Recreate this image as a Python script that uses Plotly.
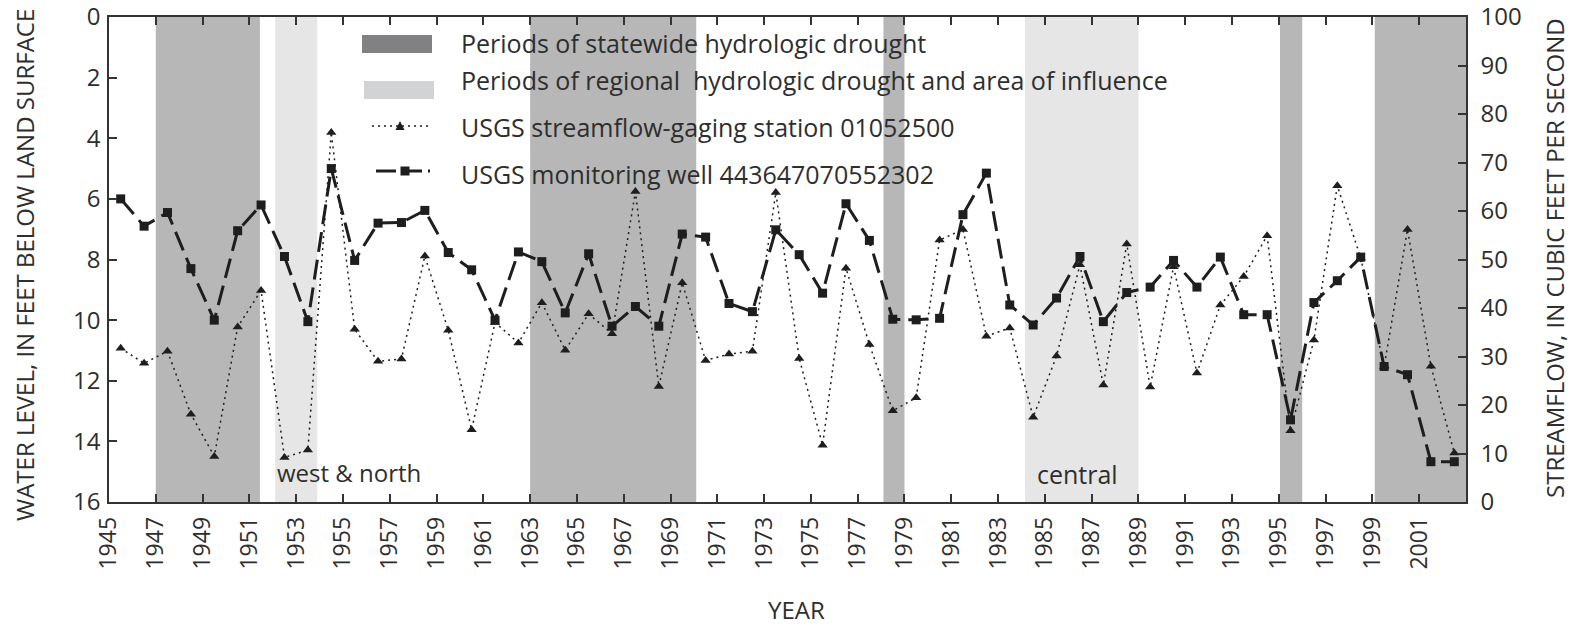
import plotly.graph_objects as go

# ---------------- data ----------------
year = [1945.5, 1946.5, 1947.5, 1948.5, 1949.5, 1950.5, 1951.5, 1952.5, 1953.5, 1954.5,
        1955.5, 1956.5, 1957.5, 1958.5, 1959.5, 1960.5, 1961.5, 1962.5, 1963.5, 1964.5,
        1965.5, 1966.5, 1967.5, 1968.5, 1969.5, 1970.5, 1971.5, 1972.5, 1973.5, 1974.5,
        1975.5, 1976.5, 1977.5, 1978.5, 1979.5, 1980.5, 1981.5, 1982.5, 1983.5, 1984.5,
        1985.5, 1986.5, 1987.5, 1988.5, 1989.5, 1990.5, 1991.5, 1992.5, 1993.5, 1994.5,
        1995.5, 1996.5, 1997.5, 1998.5, 1999.5, 2000.5, 2001.5, 2002.5]

water_level_ft = [6.0, 6.9, 6.45, 8.3, 10.0, 7.05, 6.2, 7.9, 10.05, 5.0,
                  8.03, 6.8, 6.78, 6.38, 7.77, 8.34, 10.0, 7.75, 8.07, 9.76,
                  7.81, 10.2, 9.55, 10.2, 7.16, 7.26, 9.45, 9.72, 7.02, 7.84,
                  9.11, 6.16, 7.37, 9.97, 9.99, 9.94, 6.52, 5.15, 9.5, 10.16,
                  9.27, 7.9, 10.05, 9.09, 8.91, 8.03, 8.91, 7.92, 9.82, 9.82,
                  13.29, 9.42, 8.7, 7.92, 11.53, 11.8, 14.67, 14.67]

streamflow_cfs = [31.7, 28.6, 31.1, 18.1, 9.4, 36.1, 43.6, 9.2, 10.7, 76.2,
                  35.6, 29.0, 29.5, 50.7, 35.4, 14.9, 37.0, 32.8, 41.1, 31.3,
                  38.8, 34.7, 64.0, 23.8, 45.2, 29.2, 30.5, 31.1, 63.8, 29.6,
                  11.7, 48.2, 32.5, 18.8, 21.5, 54.0, 56.2, 34.2, 35.9, 17.5,
                  30.1, 48.9, 24.1, 53.2, 23.7, 48.5, 26.6, 40.6, 46.5, 54.9,
                  14.7, 33.4, 65.2, 50.3, 27.9, 56.2, 28.0, 10.1]

x_tick_years = [1945, 1947, 1949, 1951, 1953, 1955, 1957, 1959, 1961, 1963, 1965,
                1967, 1969, 1971, 1973, 1975, 1977, 1979, 1981, 1983, 1985, 1987,
                1989, 1991, 1993, 1995, 1997, 1999, 2001]
left_ticks = [0, 2, 4, 6, 8, 10, 12, 14, 16]
right_ticks = [0, 10, 20, 30, 40, 50, 60, 70, 80, 90, 100]

statewide_start = [1947.0, 1963.0, 1978.1, 1995.05, 1999.1]
statewide_end = [1951.45, 1970.1, 1979.0, 1996.0, 2003.0]
regional_start = [1952.1, 1984.15]
regional_end = [1953.9, 1989.0]

legend_labels = ["Periods of statewide hydrologic drought",
                 "Periods of regional&nbsp; hydrologic drought and area of influence",
                 "USGS streamflow-gaging station 01052500",
                 "USGS monitoring well 443647070552302"]

# ---------------- layout helpers ----------------
W, H = 1578, 626
L, R, T, B = 109, 112, 17, 124
PW = W - L - R
PH = H - T - B
FONT = "Open Sans"
INK = "#1e1e1e"
TXT = "#2e2e2e"
DARK_SHADE = "#b7b7b7"
LIGHT_SHADE = "#e6e6e6"


def px(x):
    return (x - L) / PW


def py(y):
    return (H - B - y) / PH


fig = go.Figure()

fig.add_trace(go.Scatter(
    x=year, y=streamflow_cfs, yaxis="y2", mode="lines+markers",
    line=dict(color=INK, width=1.5, dash="2px,4px"),
    marker=dict(symbol="triangle-up", size=9, color=INK),
    showlegend=False, hoverinfo="skip"))

fig.add_trace(go.Scatter(
    x=year, y=water_level_ft, mode="lines+markers",
    line=dict(color=INK, width=3, dash="20px,8px"),
    marker=dict(symbol="square", size=9, color=INK),
    showlegend=False, hoverinfo="skip"))

shapes = []
for s, e in zip(statewide_start, statewide_end):
    shapes.append(dict(type="rect", xref="x", yref="paper", x0=s, x1=e, y0=0, y1=1,
                       fillcolor=DARK_SHADE, line=dict(width=0), layer="below"))
for s, e in zip(regional_start, regional_end):
    shapes.append(dict(type="rect", xref="x", yref="paper", x0=s, x1=e, y0=0, y1=1,
                       fillcolor=LIGHT_SHADE, line=dict(width=0), layer="below"))

# legend (drawn manually, inside plot area)
shapes.append(dict(type="rect", xref="paper", yref="paper", x0=px(362), x1=px(432),
                   y0=py(53), y1=py(35), fillcolor="#818183", line=dict(width=0)))
shapes.append(dict(type="rect", xref="paper", yref="paper", x0=px(364), x1=px(434),
                   y0=py(99), y1=py(81), fillcolor="#d2d3d5", line=dict(width=0)))
shapes.append(dict(type="line", xref="paper", yref="paper", x0=px(372), x1=px(428),
                   y0=py(126), y1=py(126), line=dict(color=INK, width=1.5, dash="2px,4px")))
shapes.append(dict(type="line", xref="paper", yref="paper", x0=px(376), x1=px(430),
                   y0=py(171), y1=py(171), line=dict(color=INK, width=3, dash="20px,6px")))
tx, ty = 400, 126
shapes.append(dict(type="path", xref="paper", yref="paper",
                   path=f"M {px(tx-4.5)},{py(ty+4)} L {px(tx+4.5)},{py(ty+4)} L {px(tx)},{py(ty-5)} Z",
                   fillcolor=INK, line=dict(width=0)))
sx, sy = 405, 171
shapes.append(dict(type="rect", xref="paper", yref="paper", x0=px(sx-4.5), x1=px(sx+4.5),
                   y0=py(sy+4.5), y1=py(sy-4.5), fillcolor=INK, line=dict(width=0)))

annotations = []
for lbl, yy in zip(legend_labels, [42.5, 79.5, 127.5, 174]):
    annotations.append(dict(text=lbl, xref="paper", yref="paper", x=px(459), y=py(yy),
                            xanchor="left", yanchor="middle", showarrow=False,
                            font=dict(family=FONT, size=25, color=TXT)))

annotations.append(dict(text="west & north", xref="paper", yref="paper", x=px(349), y=py(472),
                        xanchor="center", yanchor="middle", showarrow=False,
                        font=dict(family=FONT, size=24, color=TXT)))
annotations.append(dict(text="central", xref="paper", yref="paper", x=px(1077), y=py(474),
                        xanchor="center", yanchor="middle", showarrow=False,
                        font=dict(family=FONT, size=25, color=TXT)))

annotations.append(dict(text="WATER LEVEL, IN FEET BELOW LAND SURFACE", xref="paper", yref="paper",
                        x=px(24), y=py(265), xanchor="center", yanchor="middle", textangle=-90,
                        showarrow=False, font=dict(family=FONT, size=24, color=TXT)))
annotations.append(dict(text="STREAMFLOW, IN CUBIC FEET PER SECOND", xref="paper", yref="paper",
                        x=px(1554), y=py(258), xanchor="center", yanchor="middle", textangle=-90,
                        showarrow=False, font=dict(family=FONT, size=24, color=TXT)))
annotations.append(dict(text="YEAR", xref="paper", yref="paper",
                        x=px(796), y=py(609), xanchor="center", yanchor="middle",
                        showarrow=False, font=dict(family=FONT, size=24, color=TXT)))

axis_common = dict(showgrid=False, zeroline=False, showline=True, linecolor="#333333",
                   linewidth=1.5, ticks="inside", tickcolor="#333333", tickwidth=1.5,
                   ticklen=8, ticklabeloverflow="allow", automargin=False)

fig.update_layout(
    width=W, height=H,
    margin=dict(l=L, r=R, t=T, b=B, pad=0, autoexpand=False),
    paper_bgcolor="white", plot_bgcolor="white",
    font=dict(family=FONT, color=TXT),
    showlegend=False,
    shapes=shapes,
    annotations=annotations,
    xaxis=dict(range=[1945, 2003], tickmode="array", tickvals=x_tick_years,
               ticktext=[str(v) for v in x_tick_years], tickangle=-90, mirror="ticks",
               tickfont=dict(family=FONT, size=23, color=TXT), ticklabelstandoff=4,
               **axis_common),
    yaxis=dict(range=[16.0, -0.001], tickmode="array", tickvals=left_ticks,
               tickfont=dict(family=FONT, size=24, color=TXT), ticklabelstandoff=2,
               **axis_common),
    yaxis2=dict(range=[0, 100.006], tickmode="array", tickvals=right_ticks, overlaying="y",
                side="right", tickfont=dict(family=FONT, size=24, color=TXT),
                ticklabelstandoff=8, **axis_common),
)

fig.write_html("out.html")
